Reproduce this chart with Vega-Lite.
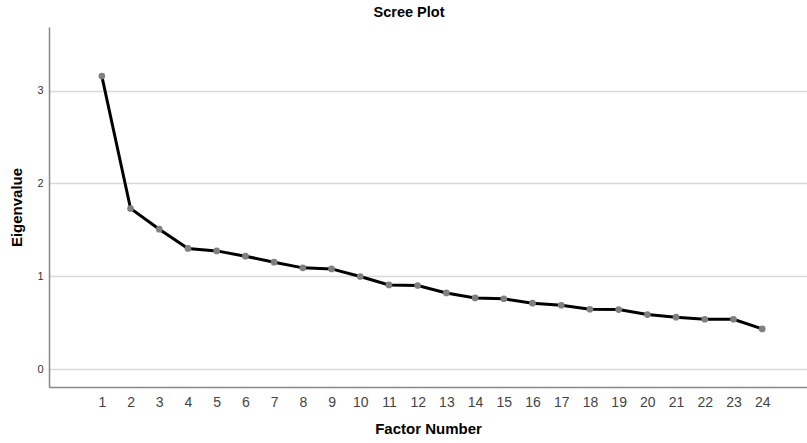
{
  "$schema": "https://vega.github.io/schema/vega-lite/v6.json",
  "autosize": "none",
  "width": 758,
  "height": 360,
  "padding": {"left": 49, "top": 27, "right": 0, "bottom": 56},
  "background": "white",
  "title": {"text": "Scree Plot", "font": "Liberation Sans", "fontSize": 14.5, "fontWeight": "bold", "color": "#000", "offset": 7, "anchor": "middle", "dx": -19},
  "data": {"values": [
    {"factor": 1, "eigen": 3.157},
    {"factor": 2, "eigen": 1.730},
    {"factor": 3, "eigen": 1.507},
    {"factor": 4, "eigen": 1.299},
    {"factor": 5, "eigen": 1.273},
    {"factor": 6, "eigen": 1.216},
    {"factor": 7, "eigen": 1.151},
    {"factor": 8, "eigen": 1.090},
    {"factor": 9, "eigen": 1.079},
    {"factor": 10, "eigen": 0.997},
    {"factor": 11, "eigen": 0.906},
    {"factor": 12, "eigen": 0.900},
    {"factor": 13, "eigen": 0.820},
    {"factor": 14, "eigen": 0.766},
    {"factor": 15, "eigen": 0.757},
    {"factor": 16, "eigen": 0.709},
    {"factor": 17, "eigen": 0.687},
    {"factor": 18, "eigen": 0.644},
    {"factor": 19, "eigen": 0.641},
    {"factor": 20, "eigen": 0.587},
    {"factor": 21, "eigen": 0.558},
    {"factor": 22, "eigen": 0.536},
    {"factor": 23, "eigen": 0.536},
    {"factor": 24, "eigen": 0.432}
  ]},
  "config": {"view": {"stroke": null}},
  "encoding": {
    "x": {"field": "factor", "type": "quantitative",
      "scale": {"domain": [-0.84, 25.56], "nice": false, "zero": false},
      "axis": {"values": [1,2,3,4,5,6,7,8,9,10,11,12,13,14,15,16,17,18,19,20,21,22,23,24],
        "title": "Factor Number", "grid": false, "ticks": false, "domainColor": "#888", "domainWidth": 1.5,
        "labelFont": "Liberation Sans", "labelFontSize": 14, "labelColor": "#444", "labelPadding": 8,
        "titleFont": "Liberation Sans", "titleFontSize": 15, "titleFontWeight": "bold", "titleColor": "#000", "titlePadding": 12}},
    "y": {"field": "eigen", "type": "quantitative",
      "scale": {"domain": [-0.194, 3.686], "nice": false, "zero": false},
      "axis": {"values": [0, 1, 2, 3], "title": "Eigenvalue", "grid": true, "gridColor": "#d9d9d9", "gridWidth": 1.5,
        "ticks": false, "domainColor": "#888", "domainWidth": 1.5,
        "labelFont": "Liberation Sans", "labelFontSize": 11, "labelColor": "#333", "labelPadding": 6,
        "titleFont": "Liberation Sans", "titleFontSize": 15, "titleFontWeight": "bold", "titleColor": "#000", "titlePadding": 12}}
  },
  "layer": [
    {"mark": {"type": "line", "color": "#000", "strokeWidth": 3}},
    {"mark": {"type": "point", "filled": true, "color": "#808080", "opacity": 1, "size": 45}}
  ]
}
